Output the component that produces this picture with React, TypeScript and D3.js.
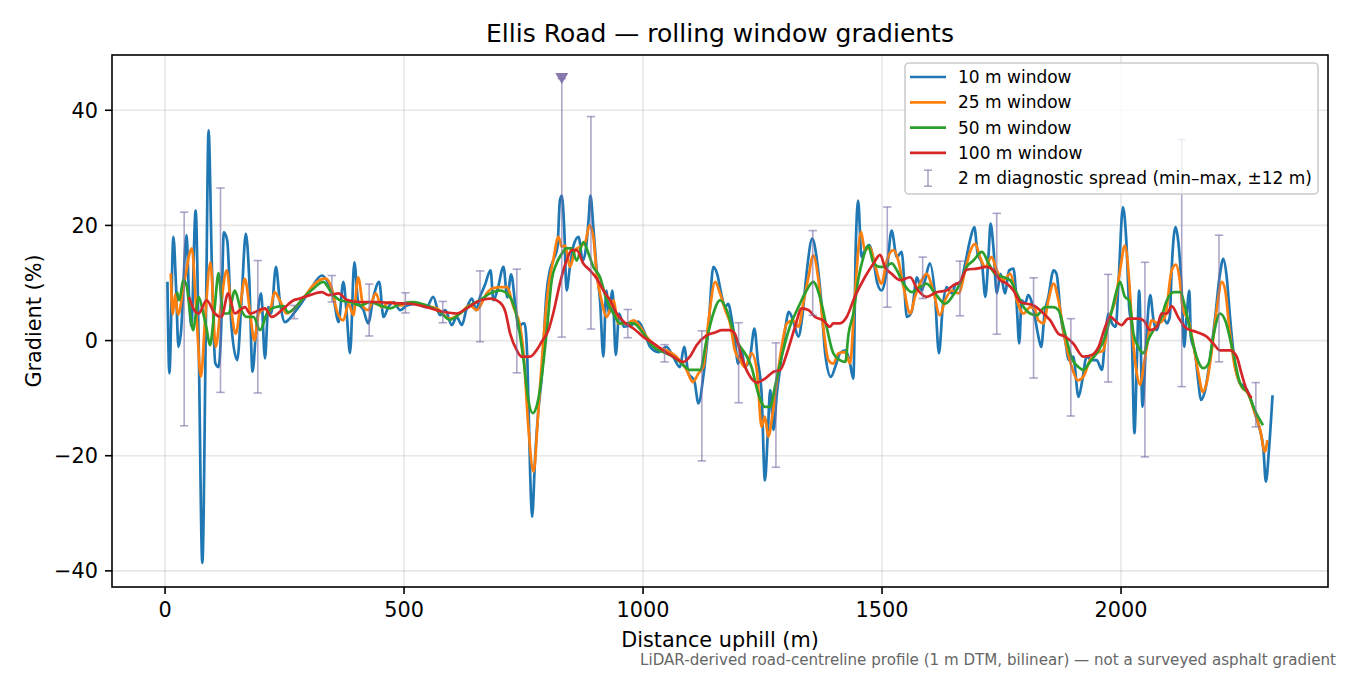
import * as d3 from "d3";

// distance uphill (m), gradient (%)
const win10: [number, number][] = [
  [5, 10.2], [9, -5.7], [17.5, 18], [23, 9.3], [28, -1.1], [33, 1.2], [45, 18.3], [50, 8], [55, 2.5], [64, 22.6],
  [70, 1.2], [78, -38.6], [86, 7], [91, 36.5], [98, 12.8], [105, -3.9], [112, -4.6], [117, 1.2], [123, 18.8],
  [130, 17.4], [139, 2.4], [151, -3.4], [160, 7], [169, 18.6], [176, 11], [183, -5.4], [190, 1.2], [201, 8.2],
  [209, -3.1], [216, 5.8], [222, 4.7], [232, 12.8], [240, 7], [251, 3.2], [257, 3.5], [270, 4.8], [282, 6.1],
  [303, 8.7], [328, 11.3], [338, 10.5], [352, 7.6], [363, 3.2], [373, 10.2], [380, 4.7], [387, -2.2], [396, 13.6],
  [404, 6.7], [415, 5.3], [425, 3], [436, 7.6], [448, 10.2], [457, 4.1], [467, 5.8], [478, 6.7], [492, 5.3],
  [506, 6.1], [527, 6.4], [547, 5.8], [561, 7.6], [575, 4.4], [586, 5.3], [600, 2.7], [610, 4.1], [621, 2.7],
  [631, 5.6], [642, 7.3], [651, 5.3], [659, 7.6], [669, 9.6], [681, 12.2], [687, 7], [696, 9], [708, 12.8],
  [716, 7.5], [724, 11.5], [733, 6], [740, 2], [745, 2.8], [752, 3], [758, -3.4], [764, -23.6], [768, -30.6],
  [774, -20.7], [781, -12.1], [788, -6.3], [798, 8.2], [805, 12.2], [812, 13.9], [821, 16.3], [826, 24.3],
  [830, 25.2], [835, 19.7], [840, 8.7], [847, 12.8], [854, 16.3], [865, 18], [874, 13.9], [881, 16.3],
  [886, 20.9], [890, 25.2], [896, 19.7], [903, 12.2], [910, 7], [917, -2.8], [923, 8.7], [929, 4.7], [936, 8.7],
  [943, -2.5], [950, 4.7], [960, 2.4], [976, 2.7], [990, 3.3], [1001, 1.8], [1015, -1.1], [1032, -2],
  [1049, -1.1], [1063, -2.8], [1077, -4.6], [1086, -1.1], [1095, -5.7], [1107, -6.9], [1116, -10.9],
  [1126, -6.3], [1137, 2.4], [1147, 12.8], [1155, 11.6], [1165, 7.6], [1172, 5.8], [1178, 6.4], [1186, 3.5],
  [1192, 0.1], [1199, -4], [1206, -1.7], [1213, -4.6], [1224, -2.8], [1233, 2.1], [1240, -3.4], [1248, -9.2],
  [1255, -24.3], [1261, -16.1], [1266, -8.6], [1273, -15.5], [1280, -9.2], [1287, -4.6], [1297, 1.8],
  [1305, 5], [1314, 3.5], [1325, 0.7], [1333, 4.1], [1342, 11.6], [1354, 17.7], [1363, 14.5], [1372, 7.6],
  [1381, -2.2], [1393, -6.3], [1402, -4.6], [1412, -2.2], [1424, -1.7], [1433, -4], [1440, -6.6], [1445, 16.2],
  [1450, 24.3], [1457, 14.5], [1464, 15.7], [1473, 16.6], [1482, 14], [1490, 10], [1499, 8.7], [1510, 12.2],
  [1520, 19.1], [1531, 14.5], [1541, 15.4], [1552, 4.1], [1562, 5], [1573, 11], [1583, 8.7], [1590, 10.5],
  [1600, 13.4], [1611, 7.6], [1619, -2.2], [1627, 5.8], [1635, 9.3], [1646, 8.2], [1655, 9.9], [1663, 9.9],
  [1674, 13.4], [1684, 17.4], [1693, 19.7], [1700, 15.1], [1709, 13.4], [1716, 7.6], [1723, 15.1],
  [1727, 20.3], [1733, 16.2], [1740, 8.2], [1748, 11.6], [1757, 8.2], [1766, 12.2], [1775, 12.5], [1782, 5.8],
  [1787, -0.5], [1792, 7], [1799, 6.4], [1806, 7.9], [1817, 5.3], [1826, 1.2], [1833, -1.1], [1840, 4.7],
  [1848, 7.6], [1859, 12.2], [1865, 11.6], [1875, 3.5], [1883, 0.1], [1891, -3.4], [1900, -2.8], [1911, -9.8],
  [1919, -6.9], [1928, -2.8], [1939, -3.4], [1949, -3.4], [1960, -5.1], [1967, 0.7], [1974, 4.7], [1981, 3],
  [1989, 2.4], [1995, 10.5], [2004, 23.2], [2011, 17.4], [2017, 5.8], [2022, 2.4], [2028, -16.1], [2033, -4],
  [2038, 8.7], [2045, -11.5], [2052, -1.1], [2061, 7.9], [2068, 3.5], [2075, 1.8], [2085, 4.7], [2096, 3],
  [2102, 4.1], [2106, 12.5], [2114, 19.7], [2120, 17], [2127, 8.5], [2132, -1.1], [2137, 4.1], [2143, 8.7],
  [2146, 0.7], [2155, -2.2], [2162, -7.4], [2167, -10.3], [2176, -8.6], [2186, -3.4], [2197, 4.1],
  [2207, 11.6], [2214, 14.2], [2221, 11.1], [2228, 4.1], [2238, -4], [2249, -7.4], [2259, -8], [2270, -9.8],
  [2280, -12.6], [2289, -15], [2298, -19], [2303, -24.5], [2310, -18.4], [2317, -9.5],
];

const win25: [number, number][] = [
  [12, 11.7], [16, 4.5], [21, 8], [27, 4.5], [40, 10], [56, 16], [66, 4], [75, -6.3], [84, 4], [95, 13.6],
  [106, -1.1], [116, 5.5], [129, 12.2], [139, 5], [148, 1.2], [157, 5.8], [167, 10.7], [178, 4.7], [187, 0],
  [196, 4.7], [209, 5.5], [219, 5.1], [229, 8.4], [240, 7], [254, 4.7], [273, 5.8], [295, 8], [310, 9.6],
  [335, 10.8], [349, 9], [359, 5.3], [373, 3.5], [384, 6.4], [394, 4.4], [404, 11], [415, 5.8], [425, 5.3],
  [441, 8.2], [453, 5.8], [471, 6.7], [492, 6.1], [513, 6.7], [540, 6.1], [568, 5.6], [596, 3.8], [617, 4.7],
  [638, 6.1], [652, 5.3], [673, 8.2], [683, 9], [701, 9.3], [715, 9.3], [729, 5.8], [743, 2.4], [750, -2.2],
  [760, -15], [771, -22.8], [781, -12.1], [791, -0.5], [802, 9.3], [812, 13.9], [823, 18], [830, 16.3],
  [837, 16.5], [847, 12.8], [858, 15.7], [868, 16.3], [879, 17.1], [888, 20], [896, 18], [903, 11.6],
  [913, 7], [924, 4.1], [938, 7], [948, 3], [966, 3], [980, 3.5], [994, 2.4], [1008, 0.6], [1029, -1.1],
  [1049, -1.7], [1070, -2.8], [1091, -5.1], [1104, -7.2], [1116, -5.7], [1126, -4.6], [1137, 3.5],
  [1151, 10.2], [1161, 8.2], [1172, 5.3], [1182, 3], [1192, -1.7], [1203, -3.4], [1213, -4.6], [1227, -2.2],
  [1238, -5.1], [1248, -15], [1255, -13.2], [1262, -16.7], [1271, -12.7], [1280, -6.9], [1290, -1.1],
  [1301, 3], [1314, 3.5], [1325, 2.4], [1335, 6.4], [1346, 11], [1356, 14.8], [1367, 10.5], [1377, 2.4],
  [1388, -3.4], [1398, -4], [1409, -2.2], [1423, -2], [1433, -4], [1443, 7.6], [1456, 18.9], [1464, 15.7],
  [1475, 16.2], [1485, 13.2], [1499, 9.9], [1510, 13.9], [1524, 15.7], [1534, 13.9], [1545, 9.3],
  [1559, 4.7], [1569, 7.6], [1583, 10.5], [1593, 11.6], [1607, 8.7], [1621, 4.4], [1632, 7], [1646, 8.7],
  [1660, 8.2], [1674, 12.2], [1684, 15.4], [1695, 16.8], [1705, 14.5], [1716, 12.8], [1729, 14.5],
  [1740, 12.2], [1754, 10.5], [1768, 11.6], [1782, 7], [1796, 4.7], [1810, 5.8], [1820, 5.4], [1827, 3.5],
  [1838, 3], [1848, 7], [1859, 9.9], [1869, 7], [1883, 0.1], [1897, -4.6], [1909, -6.9], [1921, -6.3],
  [1935, -3.4], [1949, -2.2], [1963, -1.7], [1974, 3.5], [1988, 7], [1998, 12.2], [2008, 16.5], [2017, 10.5],
  [2024, 1.2], [2033, -5.7], [2040, -7.7], [2047, -4.6], [2054, -1.1], [2064, 3.5], [2078, 3], [2092, 4.1],
  [2106, 12.2], [2115, 13.2], [2122, 11], [2130, 5.3], [2141, 3.5], [2151, -0.5], [2162, -5.7], [2171, -8.9],
  [2179, -7.4], [2190, -1.7], [2200, 5.3], [2211, 10.2], [2218, 8.7], [2227, 1.8], [2238, -4.6], [2252, -8],
  [2266, -9.2], [2280, -12.6], [2291, -15.5], [2301, -19.3], [2306, -17.3],
];

const win50: [number, number][] = [
  [25, 8.5], [30, 7], [38, 10.5], [45, 9.6], [52, 5], [59, 1.8], [65, 5], [70, 7.6], [80, 4.7], [87, 2],
  [94, -0.8], [103, 5], [112, 11.7], [121, 4.7], [133, 4.7], [146, 8.7], [157, 5.8], [171, 4.1], [185, 4.1],
  [199, 1.8], [213, 4.7], [230, 5.8], [248, 6], [257, 4.9], [273, 5.8], [290, 7.5], [310, 9], [331, 10.2],
  [349, 8.2], [366, 7], [387, 6.7], [408, 6.1], [429, 6.7], [450, 6.1], [471, 5.6], [492, 6.4], [520, 6.7],
  [547, 6.1], [575, 5], [596, 3.6], [617, 4.7], [638, 6.1], [659, 7], [680, 8.2], [701, 8.7], [722, 7.5],
  [736, 4.1], [750, -3.4], [760, -10.3], [769, -12.6], [779, -10.9], [788, -6.3], [798, 1.2], [809, 10.5],
  [819, 13.4], [830, 15.1], [840, 16], [851, 16], [861, 13.9], [875, 17.1], [886, 15.1], [896, 12.8],
  [910, 11], [924, 7], [938, 4.7], [952, 3], [966, 3], [980, 3], [1001, 1.2], [1022, -1.1], [1042, -2],
  [1063, -2.8], [1081, -4], [1098, -5.1], [1119, -5.1], [1133, 0.1], [1147, 4.7], [1161, 7], [1175, 5.3],
  [1186, 2.4], [1199, -0.5], [1213, -2.2], [1227, -4.6], [1241, -9.2], [1255, -11.5], [1266, -11.5],
  [1276, -8], [1290, -2.8], [1307, 2.4], [1325, 5.8], [1342, 8.7], [1356, 10.2], [1370, 7.6], [1384, 2.4],
  [1398, -2.2], [1412, -3.4], [1423, -3.7], [1430, 1.2], [1440, 4.7], [1450, 10.5], [1461, 14.5],
  [1471, 16.5], [1482, 13.5], [1496, 12.8], [1506, 12.8], [1520, 13.4], [1531, 12.2], [1545, 9.9],
  [1562, 8.4], [1580, 9.3], [1593, 9.9], [1611, 8.2], [1632, 6.4], [1649, 7.9], [1663, 9.9], [1677, 12.8],
  [1691, 13.9], [1709, 15.4], [1723, 13.4], [1736, 11.6], [1754, 11], [1768, 10.5], [1782, 8.2],
  [1799, 5.5], [1810, 4.7], [1824, 4.4], [1841, 5.8], [1858, 5.8], [1869, 5.3], [1883, 1.2], [1897, -3.1],
  [1911, -4.6], [1921, -5.1], [1935, -3.7], [1953, -1.7], [1967, 0.7], [1981, 5.3], [1991, 8.7],
  [1998, 10.2], [2008, 7.6], [2017, 7], [2026, 1.2], [2036, -1.1], [2047, -2.2], [2057, 0.1], [2068, 1.8],
  [2082, 3.5], [2096, 7], [2110, 8.4], [2124, 8.4], [2134, 5.8], [2144, 2], [2158, -2.8], [2172, -4.8],
  [2183, -4], [2193, 0.7], [2207, 4.7], [2218, 3.5], [2232, -1.1], [2249, -7.4], [2266, -9.2],
  [2280, -12.1], [2297, -14.7],
];

const win100: [number, number][] = [
  [50, 7.6], [59, 5.6], [70, 4.7], [87, 7], [104, 4.7], [118, 4.1], [132, 8.2], [146, 4.7], [167, 5.8],
  [178, 4.7], [209, 5.6], [223, 4.1], [248, 5.6], [269, 7], [282, 7.3], [303, 7.9], [328, 8.4], [342, 7.9],
  [363, 8.2], [380, 7.1], [408, 6.7], [443, 6.7], [478, 6.5], [513, 6.4], [547, 5.8], [582, 5], [610, 4.7],
  [631, 5.6], [652, 6.7], [680, 7.3], [701, 6.6], [712, 5], [722, 1.2], [736, -1.7], [746, -2.8],
  [764, -2.8], [777, -1.7], [788, -0.2], [802, 1.8], [812, 4.7], [826, 9.9], [840, 13.9], [851, 15.7],
  [861, 15.7], [875, 13.4], [889, 12.2], [903, 10.8], [917, 8.7], [931, 7], [945, 4.7], [959, 3.3],
  [980, 2.1], [1001, 0.6], [1022, -0.5], [1042, -1.7], [1063, -2.8], [1084, -3.7], [1098, -2.8],
  [1112, -0.8], [1133, 0.9], [1151, 1.4], [1165, 1.8], [1182, 1.8], [1192, 1.2], [1206, -2.8], [1220, -5.7],
  [1238, -7.3], [1255, -6.6], [1273, -5.4], [1287, -5.1], [1301, -2.2], [1318, 2.4], [1332, 5.6],
  [1346, 5.3], [1360, 4.1], [1377, 3.5], [1391, 2.4], [1398, 3], [1412, 3], [1426, 4.1], [1443, 7.6],
  [1464, 11], [1482, 13.4], [1496, 14.9], [1506, 12.8], [1520, 11.6], [1538, 10.5], [1559, 11], [1573, 9],
  [1593, 7.6], [1614, 8.4], [1635, 8.7], [1649, 9.6], [1663, 10.2], [1677, 12.3], [1698, 12.5],
  [1719, 12.8], [1733, 12.2], [1747, 10.5], [1761, 9.9], [1775, 8.7], [1789, 6.7], [1803, 6.4], [1817, 6.1],
  [1834, 5], [1852, 3.5], [1869, 1.2], [1883, 0.7], [1900, -0.5], [1921, -2.8], [1939, -2.5], [1953, -1.1],
  [1967, 2.4], [1977, 4.1], [1991, 3.2], [2001, 2.7], [2015, 3.8], [2036, 3.8], [2047, 3.5], [2061, 1.8],
  [2075, 2.4], [2085, 4.7], [2096, 4.7], [2106, 6], [2120, 4], [2137, 2.1], [2158, 1.5], [2179, 0.7],
  [2193, -0.5], [2207, -1.7], [2228, -1.7], [2242, -2.8], [2252, -5.7], [2263, -8.6], [2273, -10],
];

// 2 m diagnostic spread: [distance, min, max]
const spread: [number, number, number][] = [
  [40, -14.8, 22.3], [116, -9, 26.5], [194, -9.1, 13.9], [270, 3.8, 6.1], [349, 6.7, 11.3], [427, 0.8, 9.8],
  [503, 4.8, 8.3], [581, 3.1, 6.8], [659, -0.2, 12.1], [736, -5.6, 12.4], [830, 0.6, 45.5], [891, 2, 38.9],
  [968, 0.5, 5.4], [1045, -3.7, -0.7], [1123, -20.9, 1.7], [1200, -10.8, 3.1], [1278, -22, -0.4],
  [1355, 4.4, 19.1], [1511, 5.8, 23.2], [1585, 7.3, 14.5], [1663, 4.3, 13.8], [1740, 1.1, 22.1],
  [1817, -6.5, 10.9], [1895, -13.1, 3.8], [1973, -7.2, 11.5], [2050, -20.2, 13.6], [2127, -8, 34.9],
  [2205, -3.7, 18.3], [2282, -15, -7.3],
];
// spread that runs off the top, marked with a triangle
const clipped: [number, number][] = [[830, 45.5]];

const series = [
  { label: "10 m window", color: "#1f77b4", data: win10 },
  { label: "25 m window", color: "#ff7f0e", data: win25 },
  { label: "50 m window", color: "#2ca02c", data: win50 },
  { label: "100 m window", color: "#d62728", data: win100 },
];
const spreadLabel = "2 m diagnostic spread (min–max, ±12 m)";
const xTicks = [0, 500, 1000, 1500, 2000];
const yTicks = [-40, -20, 0, 20, 40];

const W = 1350, H = 675;
const M = { left: 112, right: 1328, top: 55, bottom: 587 };
const FONT = "DejaVu Sans, sans-serif";
const ERR = "#7b6ba5";

export default function App() {
  const x = d3.scaleLinear().domain([-111, 2433]).range([M.left, M.right]);
  const y = d3.scaleLinear().domain([-42.8, 49.6]).range([M.bottom, M.top]);
  const line = d3.line<[number, number]>().x(d => x(d[0])).y(d => y(d[1])).curve(d3.curveMonotoneX);
  const fmt = (v: number) => String(v).replace("-", "\u2212");

  const lx = 905, ly = 63, rowH = 25.3;

  return (
    <div style={{ position: "absolute", left: 0, top: 0 }}>
      <svg width={W} height={H} style={{ display: "block", background: "#fff" }} fontFamily={FONT}>
        <defs>
          <clipPath id="plot">
            <rect x={M.left} y={M.top} width={M.right - M.left} height={M.bottom - M.top} />
          </clipPath>
        </defs>

        {/* grid */}
        {xTicks.map(t => (
          <line key={"gx" + t} x1={x(t)} x2={x(t)} y1={M.top} y2={M.bottom} stroke="#b0b0b0" strokeOpacity={0.3} strokeWidth={1.6} />
        ))}
        {yTicks.map(t => (
          <line key={"gy" + t} x1={M.left} x2={M.right} y1={y(t)} y2={y(t)} stroke="#b0b0b0" strokeOpacity={0.3} strokeWidth={1.6} />
        ))}

        <g clipPath="url(#plot)">
          {series.map(s => (
            <path key={s.label} d={line(s.data) ?? ""} fill="none" stroke={s.color} strokeWidth={2.7} strokeLinejoin="round" />
          ))}
          {spread.map(([m, lo, hi]) => (
            <g key={"e" + m} stroke={ERR} strokeOpacity={0.6} strokeWidth={1.6}>
              <line x1={x(m)} x2={x(m)} y1={y(lo)} y2={y(hi)} />
              <line x1={x(m) - 4.2} x2={x(m) + 4.2} y1={y(lo)} y2={y(lo)} />
              <line x1={x(m) - 4.2} x2={x(m) + 4.2} y1={y(hi)} y2={y(hi)} />
            </g>
          ))}
          {clipped.map(([m, v]) => (
            <path key={"c" + m} d={`M${x(m) - 6.5},${y(v) - 5.5}L${x(m) + 6.5},${y(v) - 5.5}L${x(m)},${y(v) + 5.5}Z`} fill={ERR} fillOpacity={0.9} />
          ))}
        </g>

        {/* frame */}
        <rect x={M.left} y={M.top} width={M.right - M.left} height={M.bottom - M.top} fill="none" stroke="#000" strokeWidth={1.6} />

        {/* x ticks */}
        {xTicks.map(t => (
          <g key={"tx" + t}>
            <line x1={x(t)} x2={x(t)} y1={M.bottom} y2={M.bottom + 7} stroke="#000" strokeWidth={1.6} />
            <text x={x(t)} y={M.bottom + 30} textAnchor="middle" fontSize={20.8} fill="#000">{fmt(t)}</text>
          </g>
        ))}
        {/* y ticks */}
        {yTicks.map(t => (
          <g key={"ty" + t}>
            <line x1={M.left - 7} x2={M.left} y1={y(t)} y2={y(t)} stroke="#000" strokeWidth={1.6} />
            <text x={M.left - 14} y={y(t)} dy="0.36em" textAnchor="end" fontSize={20.8} fill="#000">{fmt(t)}</text>
          </g>
        ))}

        <text x={(M.left + M.right) / 2} y={42} textAnchor="middle" fontSize={25} fill="#000">Ellis Road — rolling window gradients</text>
        <text x={(M.left + M.right) / 2} y={647} textAnchor="middle" fontSize={20.8} fill="#000">Distance uphill (m)</text>
        <text transform={`translate(41,${(M.top + M.bottom) / 2}) rotate(-90)`} textAnchor="middle" fontSize={20.8} fill="#000">Gradient (%)</text>
        <text x={1336} y={665} textAnchor="end" fontSize={15.1} fill="#666">LiDAR-derived road-centreline profile (1 m DTM, bilinear) — not a surveyed asphalt gradient</text>

        {/* legend */}
        <rect x={lx} y={ly} width={413} height={131} rx={4} fill="#fff" fillOpacity={0.8} stroke="#cccccc" strokeWidth={1.6} />
        {series.map((s, i) => (
          <g key={"l" + s.label}>
            <line x1={910} x2={946} y1={ly + 14 + i * rowH} y2={ly + 14 + i * rowH} stroke={s.color} strokeWidth={2.7} />
            <text x={958} y={ly + 14 + i * rowH} dy="0.36em" fontSize={17} fill="#000">{s.label}</text>
          </g>
        ))}
        <g stroke={ERR} strokeOpacity={0.6} strokeWidth={1.6}>
          <line x1={928} x2={928} y1={ly + 14 + 4 * rowH - 8} y2={ly + 14 + 4 * rowH + 8} />
          <line x1={924} x2={932} y1={ly + 14 + 4 * rowH - 8} y2={ly + 14 + 4 * rowH - 8} />
          <line x1={924} x2={932} y1={ly + 14 + 4 * rowH + 8} y2={ly + 14 + 4 * rowH + 8} />
        </g>
        <text x={958} y={ly + 14 + 4 * rowH} dy="0.36em" fontSize={17} fill="#000">{spreadLabel}</text>
      </svg>
    </div>
  );
}
